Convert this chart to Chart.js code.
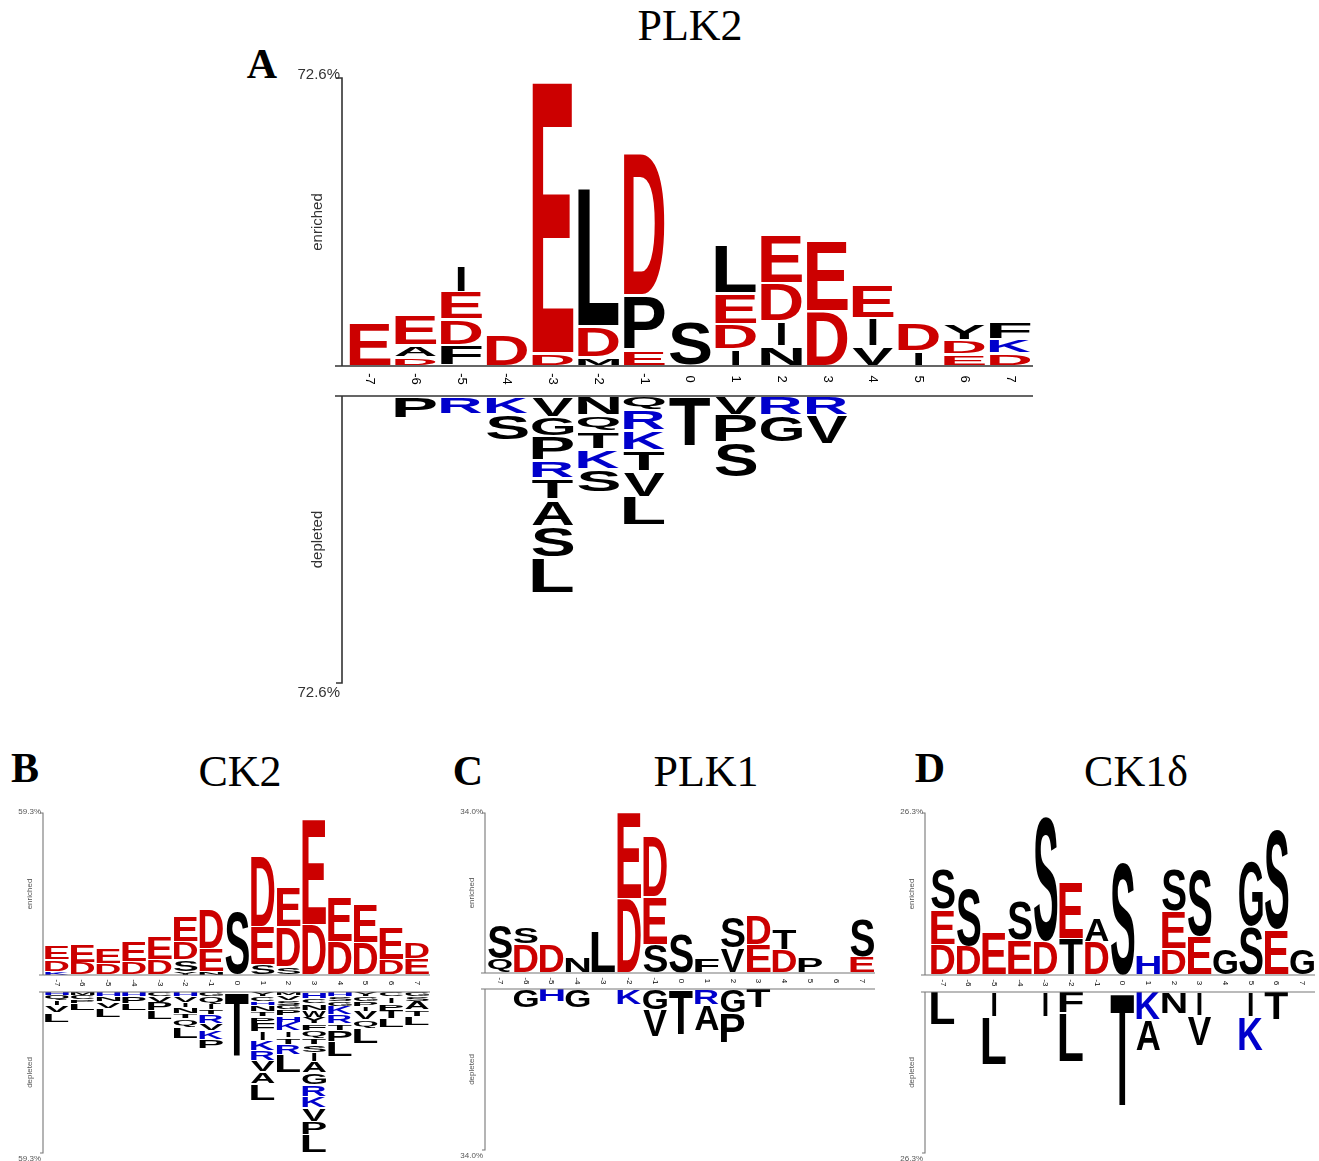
<!DOCTYPE html>
<html>
<head>
<meta charset="utf-8">
<script src="https://cdn.jsdelivr.net/npm/chart.js@4.4.1/dist/chart.umd.min.js"></script>
<style>
  body { margin: 0; background: #fff; }
  #page { position: relative; width: 1319px; height: 1161px; overflow: hidden; background: #fff; }
  .title { position: absolute; font-family: "Liberation Serif", "Times New Roman", serif; font-size: 44px; line-height: 1; transform: translate(-50%, -50%); white-space: nowrap; color: #000; }
  .tag { position: absolute; font-family: "Liberation Serif", "Times New Roman", serif; font-weight: bold; font-size: 42px; line-height: 1; transform: translate(-50%, -50%); color: #000; }
  canvas { position: absolute; }
</style>
</head>
<body>
<div id="page">
  <div class="title" style="left:690px;top:26px">PLK2</div>
  <div class="tag" style="left:262px;top:64px">A</div>
  <div class="tag" style="left:25px;top:768px">B</div>
  <div class="title" style="left:240px;top:772px">CK2</div>
  <div class="tag" style="left:468px;top:771px">C</div>
  <div class="title" style="left:706px;top:772px">PLK1</div>
  <div class="tag" style="left:930px;top:768px">D</div>
  <div class="title" style="left:1136px;top:772px">CK1δ</div>
</div>
<script>
const positions = ['-7', '-6', '-5', '-4', '-3', '-2', '-1', '0', '1', '2', '3', '4', '5', '6', '7'];

// each column lists [residue, height %] from the baseline outwards
const plk2Max = 72.6;
const plk2Enriched = [
  [['E', 10.9]],
  [['D', 2.2], ['A', 3.0], ['E', 7.6]],
  [['F', 5.3], ['D', 6.4], ['E', 7.0], ['I', 6.9]],
  [['D', 8.0]],
  [['D', 3.2], ['E', 68.5]],
  [['M', 2.1], ['D', 7.8], ['L', 34.9]],
  [['E', 4.0], ['P', 13.8], ['D', 35.8]],
  [['S', 11.1]],
  [['I', 4.2], ['D', 6.4], ['E', 7.7], ['L', 12.4]],
  [['N', 4.9], ['I', 6.3], ['D', 9.6], ['E', 12.1]],
  [['D', 13.9], ['E', 17.6]],
  [['V', 4.9], ['I', 7.1], ['E', 8.4]],
  [['I', 3.6], ['D', 7.1]],
  [['E', 3.0], ['D', 3.4], ['Y', 4.2]],
  [['D', 3.2], ['K', 3.5], ['F', 4.4]],
];
const plk2Depleted = [
  [],
  [['P', 5.6]],
  [['R', 4.6]],
  [['K', 4.6], ['S', 6.7]],
  [['V', 5.3], ['G', 5.0], ['P', 6.1], ['R', 4.5], ['T', 5.3], ['A', 6.7], ['S', 7.9], ['L', 9.2]],
  [['N', 4.8], ['Q', 4.2], ['T', 4.6], ['K', 5.0], ['S', 5.8]],
  [['Q', 3.6], ['R', 5.2], ['K', 5.0], ['T', 5.2], ['V', 6.5], ['L', 7.3]],
  [['T', 12.8]],
  [['V', 4.8], ['P', 7.1], ['S', 8.8]],
  [['R', 4.8], ['G', 7.1]],
  [['R', 4.8], ['V', 7.5]],
  [], [], [], [],
];

const ck2Max = 59.3;
const ck2Enriched = [
  [['K', 1.2], ['D', 4.3], ['E', 5.1]],
  [['D', 4.5], ['E', 6.5]],
  [['D', 4.3], ['E', 5.5]],
  [['D', 4.9], ['E', 7.3]],
  [['D', 5.5], ['E', 8.5]],
  [['Y', 1.2], ['S', 4.3], ['D', 6.7], ['E', 9.4]],
  [['N', 1.2], ['E', 8.5], ['D', 14.3]],
  [['S', 23.2]],
  [['S', 3.7], ['E', 14.0], ['D', 25.9]],
  [['S', 3.0], ['D', 14.6], ['E', 14.6]],
  [['D', 18.3], ['E', 38.7]],
  [['D', 12.2], ['E', 16.5]],
  [['D', 11.8], ['E', 14.1]],
  [['D', 5.5], ['E', 11.6]],
  [['E', 6.1], ['D', 6.1]],
];
const ck2Depleted = [
  [['H', 1.2], ['Q', 1.8], ['I', 1.8], ['V', 3.0], ['L', 3.4]],
  [['M', 1.2], ['C', 1.6], ['P', 1.2], ['L', 2.8]],
  [['H', 1.8], ['N', 1.8], ['V', 2.4], ['L', 3.3]],
  [['H', 1.6], ['P', 2.7], ['L', 2.5]],
  [['C', 1.8], ['V', 2.2], ['P', 3.1], ['L', 3.1]],
  [['H', 1.6], ['V', 2.1], ['I', 1.8], ['N', 2.5], ['T', 1.8], ['Q', 3.1], ['L', 4.3]],
  [['G', 1.8], ['Q', 2.5], ['I', 2.2], ['T', 1.7], ['R', 3.4], ['V', 2.7], ['K', 3.2], ['P', 3.3]],
  [['T', 23.3]],
  [['Y', 1.8], ['C', 1.8], ['H', 1.2], ['N', 2.5], ['T', 1.8], ['P', 2.5], ['F', 3.1], ['I', 3.1], ['K', 3.7], ['R', 3.7], ['V', 4.3], ['A', 4.3], ['L', 6.1]],
  [['M', 1.2], ['V', 1.8], ['S', 1.8], ['G', 1.8], ['P', 2.2], ['H', 2.5], ['K', 3.1], ['I', 2.5], ['T', 2.5], ['R', 3.7], ['L', 6.5]],
  [['H', 2.5], ['C', 1.8], ['N', 2.5], ['W', 2.5], ['Y', 2.5], ['F', 2.5], ['Q', 2.5], ['T', 2.5], ['S', 3.1], ['I', 3.1], ['A', 4.3], ['G', 4.3], ['R', 4.3], ['K', 4.3], ['V', 4.9], ['P', 4.9], ['L', 6.7]],
  [['H', 1.8], ['S', 1.8], ['G', 1.8], ['K', 3.1], ['R', 3.1], ['T', 2.5], ['P', 4.3], ['L', 5.5]],
  [['Y', 1.8], ['G', 1.8], ['P', 1.8], ['I', 1.8], ['V', 3.1], ['Q', 3.1], ['L', 5.5]],
  [['C', 1.8], ['I', 2.5], ['P', 2.5], ['T', 3.1], ['L', 3.1]],
  [['G', 1.8], ['S', 1.8], ['A', 3.1], ['T', 2.5], ['L', 3.1]],
];

const plk1Max = 34.0;
const plk1Enriched = [
  [['Q', 3.0], ['S', 7.4]],
  [['D', 6.1], ['S', 3.7]],
  [['D', 6.1]],
  [['N', 3.4]],
  [['L', 8.7]],
  [['D', 15.8], ['E', 18.2]],
  [['S', 6.1], ['E', 10.1], ['D', 12.8]],
  [['S', 8.4]],
  [['F', 3.0]],
  [['V', 5.2], ['S', 6.7]],
  [['E', 6.1], ['D', 6.2]],
  [['D', 5.0], ['T', 4.3]],
  [['P', 3.4]],
  [],
  [['E', 3.4], ['S', 8.2]],
];
const plk1Depleted = [
  [],
  [['G', 4.0]],
  [['H', 2.6]],
  [['G', 4.0]],
  [],
  [['K', 3.3]],
  [['G', 4.4], ['V', 5.6]],
  [['T', 9.6]],
  [['R', 3.3], ['A', 5.6]],
  [['G', 5.1], ['P', 6.3]],
  [['T', 4.0]],
  [], [], [], [],
];

const ck1Max = 26.3;
const ck1Enriched = [
  [['D', 4.9], ['E', 5.7], ['S', 6.6]],
  [['D', 4.7], ['S', 9.4]],
  [['E', 6.8]],
  [['E', 5.7], ['S', 6.5]],
  [['D', 5.4], ['S', 20.4]],
  [['T', 5.9], ['E', 9.2]],
  [['D', 5.4], ['A', 3.8]],
  [['S', 18.4]],
  [['H', 3.2]],
  [['D', 4.2], ['E', 6.1], ['S', 6.9]],
  [['E', 6.2], ['S', 10.9]],
  [['G', 4.2]],
  [['S', 7.9], ['G', 10.8]],
  [['E', 7.3], ['S', 16.2]],
  [['G', 4.3]],
];
const ck1Depleted = [
  [['L', 5.4]],
  [],
  [['I', 4.1], ['L', 7.7]],
  [],
  [['I', 4.1]],
  [['F', 3.5], ['L', 7.9]],
  [],
  [['T', 18.5]],
  [['K', 4.6], ['A', 5.0]],
  [['N', 3.5]],
  [['I', 3.8], ['V', 4.9]],
  [],
  [['I', 4.1], ['K', 5.5]],
  [['T', 4.6]],
  [],
];

const acidic = '#cc0000';
const basic = '#0000cc';
const neutral = '#000000';
const letterFont = 'bold 100px "Liberation Sans", Arial, sans-serif';
const labelFont = '"Liberation Sans", Arial, sans-serif';

const residueColor = (ch) => {
  if ('DE'.includes(ch)) return acidic;
  if ('KRH'.includes(ch)) return basic;
  return neutral;
};

const drawLetter = (ctx, ch, left, top, w, h) => {
  if (h < 0.6 || w < 0.5) return;
  ctx.save();
  ctx.font = letterFont;
  ctx.textAlign = 'left';
  ctx.textBaseline = 'alphabetic';
  const m = ctx.measureText(ch);
  const gw = m.actualBoundingBoxLeft + m.actualBoundingBoxRight;
  const gh = m.actualBoundingBoxAscent + m.actualBoundingBoxDescent;
  ctx.translate(left, top);
  ctx.scale(w / gw, h / gh);
  ctx.fillStyle = residueColor(ch);
  ctx.fillText(ch, m.actualBoundingBoxLeft, m.actualBoundingBoxAscent);
  ctx.restore();
};

const logoPlugin = (cfg) => ({
  id: 'logo',
  afterDatasetsDraw(chart) {
    const ctx = chart.ctx;
    chart.data.datasets.forEach((ds, k) => {
      const meta = chart.getDatasetMeta(k);
      meta.data.forEach((bar, i) => {
        const cell = cfg.cols[i][k];
        if (!cell) return;
        const p = bar.getProps(['x', 'y', 'base', 'width'], true);
        const top = Math.min(p.y, p.base);
        const bottom = Math.max(p.y, p.base);
        const h = bottom - top;
        const gap = h > 8 ? cfg.gap : h * 0.08;
        const w = cell[0] === 'I' ? Math.max(1.5, p.width * 0.18) : p.width;
        drawLetter(ctx, cell[0], p.x - w / 2, top + gap, w, h - 2 * gap);
      });
    });
  },
  afterDraw(chart) {
    const ctx = chart.ctx;
    const a = chart.chartArea;
    const xs = chart.scales.x;
    const ax = a.left - cfg.axisGap;
    ctx.save();
    ctx.strokeStyle = cfg.axisColor;
    ctx.lineWidth = cfg.lineWidth;
    ctx.fillStyle = cfg.textColor;
    ctx.beginPath();
    if (cfg.side === 'up') {
      ctx.moveTo(ax - cfg.hook, a.top);
      ctx.lineTo(ax, a.top);
      ctx.lineTo(ax, a.bottom);
      ctx.moveTo(ax - cfg.hook - 1, a.bottom);
      ctx.lineTo(a.right, a.bottom);
    } else {
      ctx.moveTo(ax - cfg.hook - 1, a.top);
      ctx.lineTo(a.right, a.top);
      ctx.moveTo(ax, a.top);
      ctx.lineTo(ax, a.bottom);
      ctx.lineTo(ax - cfg.hook, a.bottom);
    }
    ctx.stroke();

    // max percentage label
    ctx.font = `${cfg.maxSize}px ${labelFont}`;
    ctx.textAlign = 'right';
    if (cfg.side === 'up') {
      ctx.textBaseline = 'alphabetic';
      ctx.fillText(`${cfg.max.toFixed(1)}%`, ax - 2, a.top + 1);
    } else {
      ctx.textBaseline = 'top';
      ctx.fillText(`${cfg.max.toFixed(1)}%`, ax - 2, a.bottom + 2);
    }

    // side caption
    ctx.save();
    ctx.translate(ax - cfg.captionOffset, (a.top + a.bottom) / 2);
    ctx.rotate(-Math.PI / 2);
    ctx.textAlign = 'center';
    ctx.textBaseline = 'middle';
    ctx.font = `${cfg.captionSize}px ${labelFont}`;
    ctx.fillText(cfg.side === 'up' ? 'enriched' : 'depleted', 0, 0);
    ctx.restore();

    // position labels, rotated clockwise under the enriched half
    if (cfg.side === 'up') {
      ctx.fillStyle = '#000';
      ctx.font = `${cfg.tickSize}px ${labelFont}`;
      xs.ticks.forEach((t, i) => {
        ctx.save();
        ctx.translate(xs.getPixelForTick(i), a.bottom + cfg.tickOffset);
        ctx.rotate(Math.PI / 2);
        ctx.textAlign = 'center';
        ctx.textBaseline = 'middle';
        ctx.fillText(positions[i], 0, 0);
        ctx.restore();
      });
    }
    ctx.restore();
  },
});

const buildHalf = (cfg) => {
  const [L, T, R, B] = cfg.area;
  const padTop = 24;
  const padBottom = 30;
  const cw = 1319;
  const canvas = document.createElement('canvas');
  canvas.width = cw;
  canvas.height = B - T + padTop + padBottom;
  canvas.style.left = '0px';
  canvas.style.top = `${T - padTop}px`;
  document.getElementById('page').appendChild(canvas);

  const depth = Math.max(...cfg.cols.map(c => c.length));
  const datasets = [];
  for (let k = 0; k < depth; k++) {
    datasets.push({
      data: cfg.cols.map(c => (c[k] ? c[k][1] : null)),
      backgroundColor: 'rgba(0,0,0,0)',
      borderWidth: 0,
      barPercentage: cfg.barPct,
      categoryPercentage: 1,
    });
  }

  new Chart(canvas, {
    type: 'bar',
    data: { labels: positions, datasets },
    options: {
      responsive: false,
      animation: false,
      devicePixelRatio: 1,
      layout: { padding: { left: L, right: cw - R, top: padTop, bottom: padBottom } },
      plugins: { legend: { display: false }, tooltip: { enabled: false } },
      scales: {
        x: { display: false, stacked: true },
        y: { display: false, stacked: true, min: 0, max: cfg.max, reverse: cfg.side === 'down' },
      },
    },
    plugins: [logoPlugin(cfg)],
  });
};

const bigStyle = {
  barPct: 0.9, gap: 1.3, axisColor: '#333', lineWidth: 1.6, textColor: '#333',
  hook: 6, maxSize: 15, captionSize: 15, captionOffset: 24, tickSize: 13, tickOffset: 13,
};
const smallStyle = {
  barPct: 0.92, gap: 0.7, axisColor: '#777', lineWidth: 1.1, textColor: '#555',
  hook: 3, maxSize: 8, captionSize: 8, captionOffset: 13, tickSize: 8, tickOffset: 8,
};

buildHalf({ ...bigStyle, side: 'up', cols: plk2Enriched, max: plk2Max, area: [347, 78, 1033, 366], axisGap: 5 });
buildHalf({ ...bigStyle, side: 'down', cols: plk2Depleted, max: plk2Max, area: [347, 396, 1033, 683], axisGap: 5 });

buildHalf({ ...smallStyle, side: 'up', cols: ck2Enriched, max: ck2Max, area: [44, 813, 430, 975], axisGap: 1 });
buildHalf({ ...smallStyle, side: 'down', cols: ck2Depleted, max: ck2Max, area: [44, 992, 430, 1153], axisGap: 1 });

buildHalf({ ...smallStyle, side: 'up', cols: plk1Enriched, max: plk1Max, area: [487, 813, 875, 973], axisGap: 2 });
buildHalf({ ...smallStyle, side: 'down', cols: plk1Depleted, max: plk1Max, area: [487, 989, 875, 1150], axisGap: 2 });

buildHalf({ ...smallStyle, side: 'up', cols: ck1Enriched, max: ck1Max, area: [930, 813, 1315, 975], axisGap: 5 });
buildHalf({ ...smallStyle, side: 'down', cols: ck1Depleted, max: ck1Max, area: [930, 992, 1315, 1153], axisGap: 5 });
</script>
</body>
</html>
